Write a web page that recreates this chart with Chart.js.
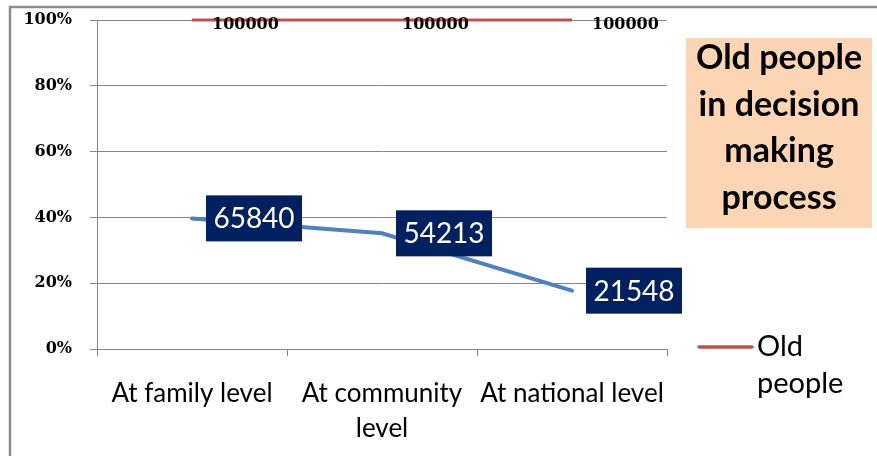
<!DOCTYPE html>
<html>
<head>
<meta charset="utf-8">
<script src="https://cdn.jsdelivr.net/npm/chart.js@4"></script>
<style>
  html, body { margin: 0; padding: 0; background: #fff; }
  #wrap { width: 877px; height: 456px; }
</style>
</head>
<body>
<div id="wrap"><canvas id="oldppl" width="877" height="456"></canvas></div>
<script>
// data
const categories = ['At family level', ['At community', 'level'], 'At national level'];
const decisionCounts = [65840, 54213, 21548];
const oldPeopleCounts = [100000, 100000, 100000];
const yTicks = [0, 0.2, 0.4, 0.6, 0.8, 1];
const titleLines = ['Old people', 'in decision', 'making', 'process'];

// 100% stacked line: lower series share, upper series sits at the top
const decisionShare = decisionCounts.map((v, i) => v / (v + oldPeopleCounts[i]));
const oldPeopleShare = decisionCounts.map((v, i) => (v + oldPeopleCounts[i]) / (v + oldPeopleCounts[i]));

const frame = {
    id: 'frame',
    beforeDraw(chart) {
        const c = chart.ctx;
        c.save();
        c.strokeStyle = '#8c8c8c';
        c.lineWidth = 2.5;
        c.strokeRect(10, 7, 900, 500);
        c.restore();
    }
};

const extras = {
    id: 'extras',
    afterDatasetsDraw(chart) {
        const c = chart.ctx;
        c.save();
        // navy value boxes for the lower series
        chart.getDatasetMeta(0).data.forEach((p, i) => {
            c.fillStyle = '#002060';
            c.fillRect(p.x + 14, p.y - 23, 96, 46);
            c.fillStyle = '#fff';
            c.font = '28px Lato';
            c.textAlign = 'center';
            c.textBaseline = 'middle';
            c.fillText(String(decisionCounts[i]), p.x + 62, p.y + 1);
        });
        // plain labels for the top series
        chart.getDatasetMeta(1).data.forEach((p, i) => {
            c.fillStyle = '#000';
            c.font = 'bold 16px "DejaVu Serif"';
            c.textAlign = 'left';
            c.textBaseline = 'middle';
            c.fillText(String(oldPeopleCounts[i]), p.x + 20, p.y + 5);
        });

        // title box
        c.fillStyle = '#fcd5b5';
        c.fillRect(686, 38, 186, 190);
        c.fillStyle = '#000';
        c.font = 'bold 34px Lato';
        c.textAlign = 'center';
        c.textBaseline = 'alphabetic';
        titleLines.forEach((t, i) => c.fillText(t, 779, 69 + i * 46.5));

        // legend (only the top series)
        const ds = chart.data.datasets[1];
        c.strokeStyle = ds.borderColor;
        c.lineWidth = 3.5;
        c.lineCap = 'round';
        c.beginPath();
        c.moveTo(699, 347);
        c.lineTo(752, 347);
        c.stroke();
        c.fillStyle = '#000';
        c.font = '29px Lato';
        c.textAlign = 'left';
        ds.label.split(' ').forEach((w, i) => c.fillText(w, 757, 356 + i * 37));
        c.restore();
    }
};

new Chart(document.getElementById('oldppl').getContext('2d'), {
    type: 'line',
    data: {
        labels: categories,
        datasets: [
            {
                label: 'Decision making',
                data: decisionShare,
                borderColor: '#4f81bd',
                borderWidth: 4,
                pointRadius: 0,
                fill: false,
                tension: 0,
                clip: false,
                borderCapStyle: 'round'
            },
            {
                label: 'Old people',
                data: oldPeopleShare,
                borderColor: '#c0504d',
                borderWidth: 3,
                pointRadius: 0,
                fill: false,
                tension: 0,
                clip: false
            }
        ]
    },
    options: {
        responsive: false,
        animation: false,
        layout: { autoPadding: false, padding: { top: 20, right: 210, left: 0, bottom: 0 } },
        plugins: {
            legend: { display: false },
            title: { display: false },
            tooltip: { enabled: false }
        },
        scales: {
            x: {
                offset: true,
                afterFit: s => { s.height = 107; },
                grid: { drawOnChartArea: false, offset: true, tickLength: 7, color: '#868686' },
                border: { color: '#868686' },
                ticks: {
                    autoSkip: false,
                    maxRotation: 0,
                    padding: 20,
                    color: '#000',
                    font: { family: 'Lato', size: 26, lineHeight: 1.35 }
                }
            },
            y: {
                min: 0,
                max: 1,
                afterFit: s => { s.width = 97; s.paddingTop = 0; s.paddingBottom = 0; },
                afterBuildTicks: s => { s.ticks = yTicks.map(v => ({ value: v })); },
                grid: { color: '#868686', tickLength: 7 },
                border: { color: '#868686' },
                ticks: {
                    padding: 18,
                    color: '#000',
                    font: { family: 'DejaVu Serif', size: 16, weight: 'bold' },
                    callback: v => Math.round(v * 100) + '%'
                }
            }
        }
    },
    plugins: [frame, extras]
});
</script>
</body>
</html>
